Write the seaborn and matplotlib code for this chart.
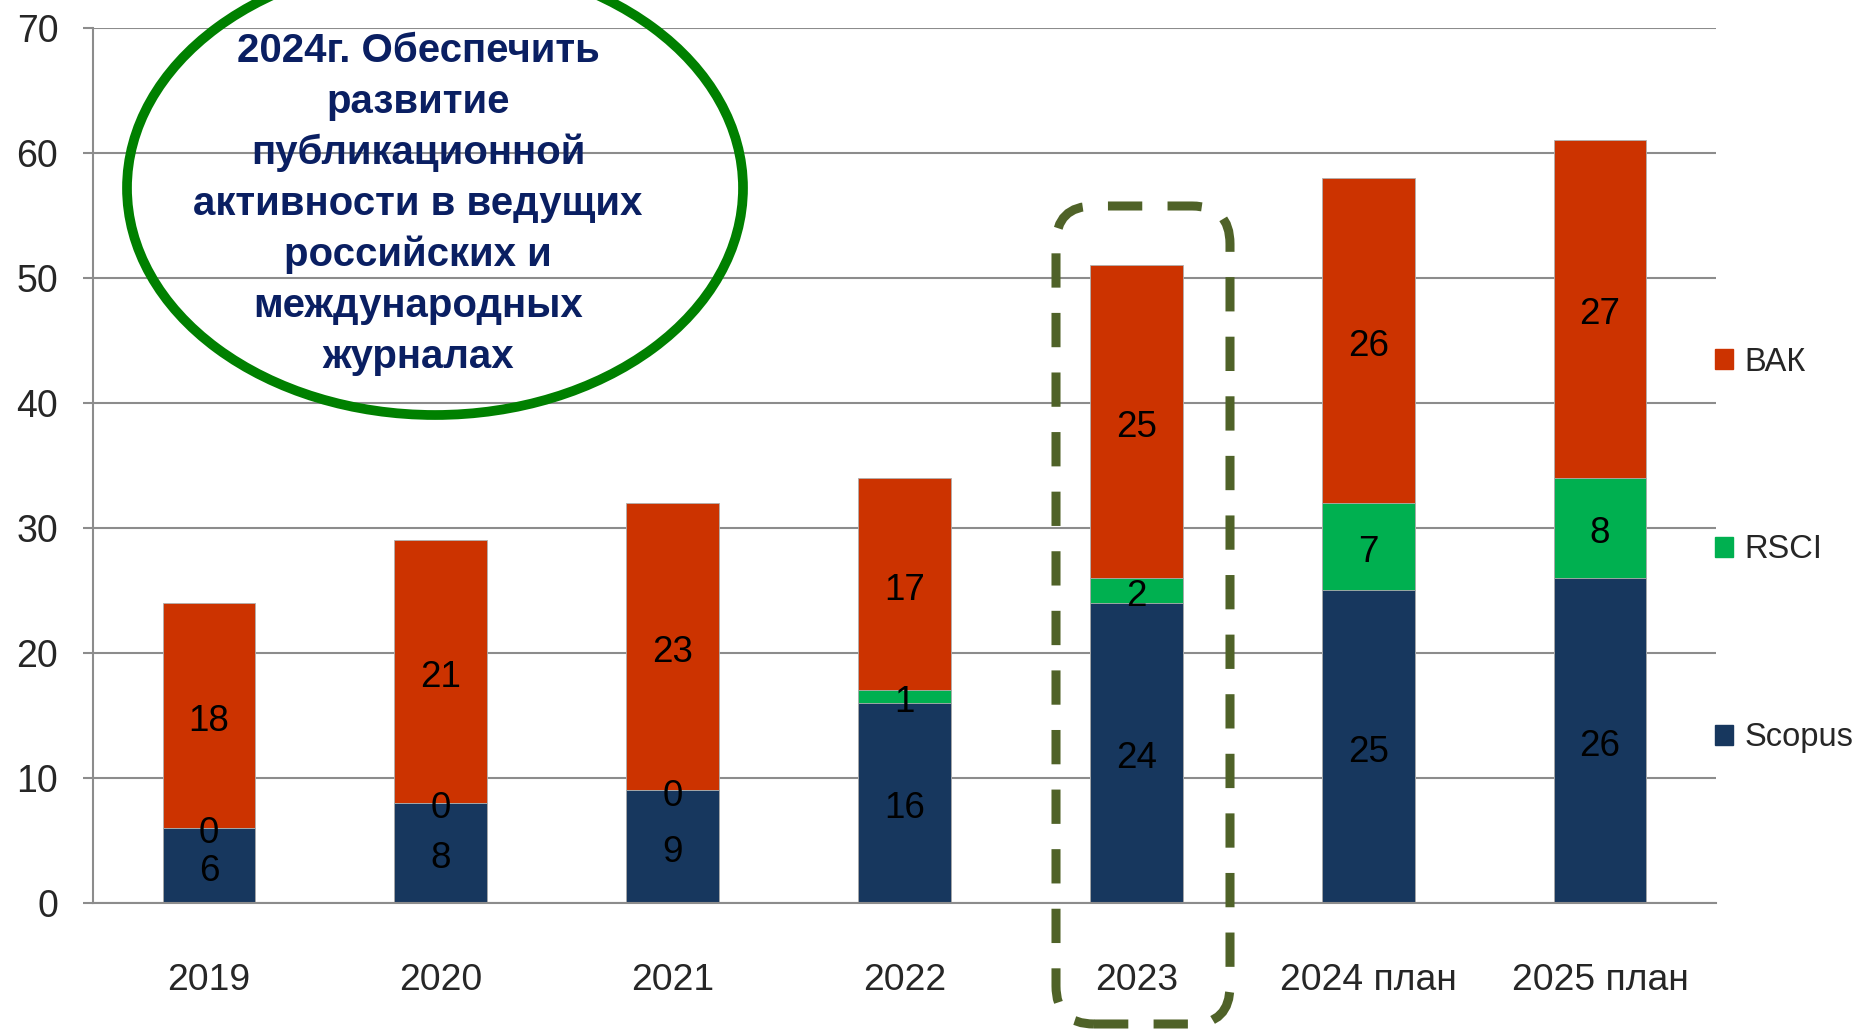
import pandas as pd
import matplotlib.pyplot as plt
import seaborn as sns
from matplotlib.patches import Ellipse, FancyBboxPatch, Patch
from matplotlib.ticker import FixedLocator

# ================= данные =================
years = ["2019", "2020", "2021", "2022", "2023", "2024 план", "2025 план"]
scopus = [6, 8, 9, 16, 24, 25, 26]
rsci = [0, 0, 0, 1, 2, 7, 8]
vak = [18, 21, 23, 17, 25, 26, 27]
y_ticks = [0, 10, 20, 30, 40, 50, 60, 70]

note = ("2024г. Обеспечить\nразвитие\nпубликационной\nактивности в ведущих\n"
        "российских и\nмеждународных\nжурналах")

# ================= стиль =================
RED = "#CC3300"
GREEN = "#00B050"
NAVY = "#17375E"
GRID = "#8C8C8C"

sns.set_style("white")
plt.rcParams['font.family'] = ['Liberation Sans', 'DejaVu Sans']

df = pd.DataFrame({"year": years, "Scopus": scopus, "RSCI": rsci, "ВАК": vak})
df["mid"] = df["Scopus"] + df["RSCI"]
df["top"] = df["mid"] + df["ВАК"]

fig = plt.figure(figsize=(18.73, 10.30), dpi=100)
ax = fig.add_axes([93 / 1873, 1 - 903 / 1030, (1716 - 93) / 1873, (903 - 27.6) / 1030])

# слои: сначала полная высота, затем нижние сегменты поверх
for col, colr in [("top", RED), ("mid", GREEN), ("Scopus", NAVY)]:
    sns.barplot(data=df, x="year", y=col, color=colr, width=0.4, saturation=1,
                errorbar=None, edgecolor="#B0B0B0", linewidth=0.6, ax=ax)

# подписи сегментов
for i in range(len(years)):
    bottoms = [0, scopus[i], scopus[i] + rsci[i]]
    for b, v in zip(bottoms, [scopus[i], rsci[i], vak[i]]):
        ax.annotate(str(v), (i, b + v / 2), xytext=(0, -4.3), textcoords="offset points",
                    ha="center", va="center", fontsize=26.5, color="black")

ax.set_xlim(-0.5, len(years) - 0.5)
ax.set_ylim(0, 70)
ax.set_yticks(y_ticks)
ax.set_xlabel("")
ax.set_ylabel("")
ax.yaxis.grid(True, color=GRID, linewidth=1.5)
ax.set_axisbelow(True)

ax.xaxis.set_minor_locator(FixedLocator([i - 0.5 for i in range(len(years) + 1)]))
ax.tick_params(axis="x", which="major", length=0, pad=43.5, labelsize=26.8)
ax.tick_params(axis="x", which="minor", length=9, width=1.5, color=GRID, direction="out")
ax.tick_params(axis="y", length=7, width=1.5, color=GRID, pad=18, labelsize=27, left=True)

for s in ["top", "right"]:
    ax.spines[s].set_visible(False)
for s in ["left", "bottom"]:
    ax.spines[s].set_color(GRID)
    ax.spines[s].set_linewidth(1.5)

# легенда
handles = [Patch(color=RED, label="ВАК"), Patch(color=GREEN, label="RSCI"),
           Patch(color=NAVY, label="Scopus")]
fig.legend(handles=handles, loc="center left", bbox_to_anchor=(1715 / 1873, 1 - 550 / 1030),
           frameon=False, fontsize=23.5, handlelength=0.56, handleheight=0.56,
           handletextpad=0.35, labelspacing=4.8, borderpad=0, borderaxespad=0)

# эллипс с текстом
ell = Ellipse((4.35, 8.42), 6.16, 4.54, transform=fig.dpi_scale_trans,
              fill=False, edgecolor="#008000", linewidth=7, clip_on=False)
fig.add_artist(ell)
fig.text(418 / 1873, 1 - 204 / 1030, note, ha="center", va="center", fontsize=29,
         fontweight="bold", color="#0A1F62", linespacing=1.42)

# пунктирная рамка вокруг 2023
box = FancyBboxPatch((10.56, 0.06), 1.74, 8.18, boxstyle="round,pad=0,rounding_size=0.38",
                     transform=fig.dpi_scale_trans, fill=False, edgecolor="#4F6228",
                     linewidth=6.5, linestyle=(0, (3.8, 2.8)), clip_on=False)
fig.add_artist(box)

plt.savefig("out.png", dpi=100)
